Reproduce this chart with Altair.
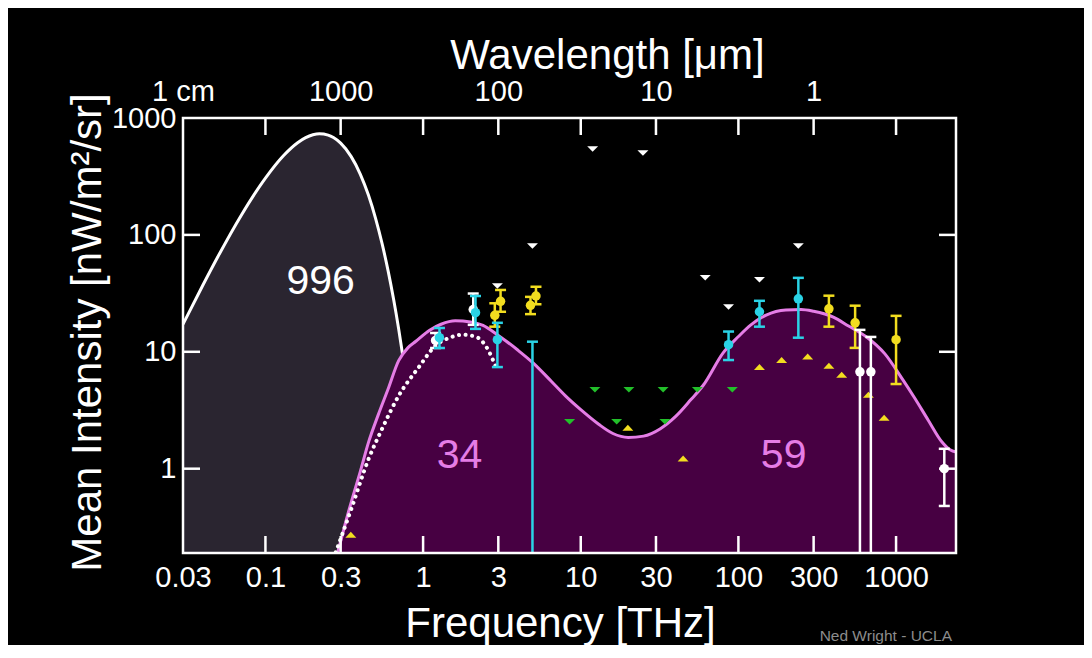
import altair as alt
import pandas as pd

FONT = "Liberation Sans"

# ---------------- data ----------------
# CMB spectrum: frequency [THz] and nu*I_nu [nW/m^2/sr]
cmb_nu = [0.03, 0.04, 0.05, 0.07, 0.1, 0.13, 0.16, 0.18, 0.2, 0.22, 0.25, 0.27, 0.3,
          0.35, 0.4, 0.45, 0.5, 0.55, 0.6, 0.65, 0.7, 0.75, 0.8, 0.9, 1.0]
cmb_val = [17.2, 36.9, 65.3, 146, 306, 475, 614, 679, 718, 733, 714, 680, 609,
           467, 330, 219, 138, 83.7, 49.2, 28.1, 15.7, 8.56, 4.6, 1.27, 0.33]

# CIB + COB model curve (magenta)
cib_nu = [0.27, 0.3, 0.34, 0.4, 0.45, 0.52, 0.6, 0.7, 0.8, 0.9, 1.1, 1.3, 1.6, 2.0, 2.4,
          3.0, 4.0, 5.0, 6.5, 8.0, 10, 13, 16, 20, 25, 32, 40, 50, 60, 80, 100, 120,
          150, 200, 250, 300, 400, 500, 650, 850, 1100, 1300, 1600, 1950, 2200, 2450]
cib_val = [0.14, 0.24, 0.45, 0.95, 1.67, 2.9, 4.8, 8.4, 10.8, 12.3, 15.3, 17.2, 18.4, 18.0, 16.8,
           13.8, 10.3, 8.0, 5.6, 4.2, 3.2, 2.4, 2.0, 1.85, 1.9, 2.2, 2.8, 3.9, 5.2, 9.8, 13.5, 17.0,
           20.6, 22.8, 23.0, 22.2, 19.8, 16.6, 13.4, 9.6, 5.8, 4.1, 2.6, 1.7, 1.45, 1.38]

# FIRAS-like dotted curve
dot_nu = [0.27, 0.35, 0.45, 0.55, 0.7, 0.94, 1.2, 1.5, 1.77, 2.17, 2.52, 2.83, 2.97]
dot_val = [0.17, 0.45, 1.2, 2.2, 4.2, 7.4, 11.3, 13.3, 14.0, 13.4, 11.0, 8.0, 6.8]

# measurements with error bars (lo = 0.1 -> bar runs to the bottom)
cyan_nu = [1.27, 2.15, 2.96, 4.94, 86.6, 136, 240]
cyan_val = [13.2, 21.6, 12.7, None, 11.5, 22.0, 28.4]
cyan_lo = [10.8, 15.7, 7.4, 0.1, 8.5, 16.4, 13.2]
cyan_hi = [16.0, 30.0, 17.7, 12.2, 14.9, 27.3, 42.9]

yellow_nu = [2.85, 3.1, 4.8, 5.2, 375, 550, 1000]
yellow_val = [20.5, 27.0, 25.0, 30.0, 23.3, 17.7, 12.7]
yellow_lo = [16.4, 22.0, 21.0, 25.5, 16.4, 10.8, 5.3]
yellow_hi = [26.0, 33.8, 29.5, 36.0, 30.2, 24.8, 20.3]

white_fir_nu = [1.2, 2.08]
white_fir_val = [12.5, 23.0]
white_fir_lo = [10.8, 17.0]
white_fir_hi = [14.5, 31.5]

white_nir_nu = [590, 692, 2023]
white_nir_val = [6.74, 6.74, 1.0]
white_nir_lo = [0.1, 0.1, 0.48]
white_nir_hi = [15.4, 13.4, 1.48]

# limits
white_upper_nu = [2.96, 4.94, 11.9, 24.8, 61.6, 86.6, 136, 240]
white_upper_val = [36.6, 80.5, 543, 502, 42.9, 24.2, 41.3, 80.5]
green_upper_nu = [8.5, 12.3, 16.9, 20.2, 33.3, 34.2, 54.9, 91.5]
green_upper_val = [2.52, 4.73, 2.52, 4.73, 4.73, 2.52, 4.73, 4.73]
yellow_lower_nu = [0.348, 19.9, 44.6, 136, 188, 275, 375, 452, 668, 840]
yellow_lower_val = [0.272, 2.24, 1.22, 7.4, 8.5, 9.1, 7.6, 6.35, 4.3, 2.73]

# integrated-intensity labels
ann_nu = [0.224, 1.70, 193.6]
ann_val = [39.6, 1.29, 1.29]
ann_text = ["996", "34", "59"]
ann_color = ["#ffffff", "#e57de6", "#e57de6"]

# axes
x_label_values = [0.03, 0.1, 0.3, 1, 3, 10, 30, 100, 300, 1000]
x_label_text = ["0.03", "0.1", "0.3", "1", "3", "10", "30", "100", "300", "1000"]
x_tick_values = [0.1, 0.3, 1, 3, 10, 30, 100, 300, 1000]
top_label_values = [0.03, 0.3, 3, 30, 300]
top_label_text = ["1 cm", "1000", "100", "10", "1"]
y_label_values = [1, 10, 100, 1000]
y_label_text = ["1", "10", "100", "1000"]
y_tick_values = [1, 10, 100]

X_DOMAIN = [0.03, 2400]
Y_DOMAIN = [0.19, 1000]

# ---------------- layout ----------------
W, H = 773, 435
LEFT, TOP = 175, 110
VIEW_W, VIEW_H = 1076, 637
TICK = 17

CMB_FILL = "#2a2530"
CIB_FILL = "#470042"
MAGENTA = "#e57de6"
CYAN = "#2ad3e6"
YELLOW = "#f2dd1f"
GREEN = "#22c02a"

xs = alt.Scale(type="log", domain=X_DOMAIN, nice=False)
ys = alt.Scale(type="log", domain=Y_DOMAIN, nice=False)


def label_expr(values, labels):
    expr = "''"
    for v, lab in zip(reversed(values), reversed(labels)):
        expr = f"abs(datum.value / {v} - 1) < 0.001 ? '{lab}' : ({expr})"
    return expr


def X(axis=None):
    return alt.X("nu:Q", scale=xs, axis=axis)


def Y(field="val", axis=None):
    return alt.Y(f"{field}:Q", scale=ys, axis=axis)


bottom_axis = alt.Axis(
    orient="bottom", values=x_label_values, labelExpr=label_expr(x_label_values, x_label_text),
    ticks=False, tickSize=0, domain=False, grid=False, labelFlush=False, labelOverlap=False,
    labelFont=FONT, labelFontSize=29, labelColor="white", labelPadding=33,
    labelBaseline="alphabetic",
    title="Frequency [THz]", titleFont=FONT, titleFontSize=42, titleFontWeight="normal",
    titleColor="white", titleX=377, titleY=83, titleAlign="center", titleBaseline="alphabetic",
)
top_axis = alt.Axis(
    orient="top", values=top_label_values, labelExpr=label_expr(top_label_values, top_label_text),
    ticks=False, tickSize=0, domain=False, grid=False, labelFlush=False, labelOverlap=False,
    labelFont=FONT, labelFontSize=29, labelColor="white", labelPadding=18,
    labelBaseline="alphabetic",
    title="Wavelength [μm]", titleFont=FONT, titleFontSize=42, titleFontWeight="normal",
    titleColor="white", titleX=424, titleY=-50, titleAlign="center", titleBaseline="alphabetic",
)
left_axis = alt.Axis(
    orient="left", values=y_label_values, labelExpr=label_expr(y_label_values, y_label_text),
    ticks=False, tickSize=0, domain=False, grid=False, labelFlush=False, labelOverlap=False,
    labelFont=FONT, labelFontSize=29, labelColor="white", labelPadding=7,
    labelBaseline="middle", labelAlign="right",
    title="Mean Intensity [nW/m²/sr]", titleFont=FONT, titleFontSize=42,
    titleFontWeight="normal", titleColor="white", titleAngle=270, titleX=-83, titleY=214,
    titleAlign="center", titleBaseline="alphabetic",
)

# ---------------- data frames ----------------
cmb = pd.DataFrame({"nu": cmb_nu, "val": cmb_val})
cmb["base"] = Y_DOMAIN[0]
cib = pd.DataFrame({"nu": cib_nu, "val": cib_val})
cib["base"] = Y_DOMAIN[0]
dots = pd.DataFrame({"nu": dot_nu, "val": dot_val})

layers = []

layers.append(
    alt.Chart(cmb).mark_area(color=CMB_FILL, opacity=1, interpolate="monotone", clip=True)
    .encode(x=X(bottom_axis), y=Y("val", left_axis), y2=alt.Y2("base"))
)
layers.append(
    alt.Chart(cmb).mark_line(color="white", strokeWidth=3, interpolate="monotone", clip=True)
    .encode(x=X(top_axis), y=Y())
)
layers.append(
    alt.Chart(cib).mark_area(color=CIB_FILL, opacity=1, interpolate="monotone", clip=True)
    .encode(x=X(), y=Y(), y2=alt.Y2("base"))
)
layers.append(
    alt.Chart(cib).mark_line(color=MAGENTA, strokeWidth=3, interpolate="monotone", clip=True)
    .encode(x=X(), y=Y())
)
layers.append(
    alt.Chart(dots).mark_line(color="white", strokeWidth=4, strokeDash=[0.1, 6.5],
                              strokeCap="round", interpolate="monotone", clip=True)
    .encode(x=X(), y=Y())
)

DOWN = "M-1,-0.5L1,-0.5L0,0.5Z"
UP = "M-1,0.55L1,0.55L0,-0.55Z"


def limits(nu, val, color, shape, size):
    df = pd.DataFrame({"nu": nu, "val": val})
    return alt.Chart(df).mark_point(shape=shape, filled=True, color=color, size=size,
                                    opacity=1, strokeWidth=0, clip=True).encode(x=X(), y=Y())


layers.append(limits(green_upper_nu, green_upper_val, GREEN, DOWN, 120))
layers.append(limits(white_upper_nu, white_upper_val, "white", DOWN, 120))
layers.append(limits(yellow_lower_nu, yellow_lower_val, YELLOW, UP, 120))


def errbars(nu, val, lo, hi, color):
    df = pd.DataFrame({"nu": nu, "val": val, "lo": lo, "hi": hi})
    base = alt.Chart(df)
    out = [
        base.mark_rule(color=color, strokeWidth=2.5, clip=True)
        .encode(x=X(), y=Y("lo"), y2=alt.Y2("hi")),
        base.mark_tick(orient="horizontal", color=color, size=11, thickness=2.5, opacity=1,
                       clip=True).encode(x=X(), y=Y("hi")),
        base.transform_filter(f"datum.lo > {Y_DOMAIN[0]}")
        .mark_tick(orient="horizontal", color=color, size=11, thickness=2.5, opacity=1,
                   clip=True).encode(x=X(), y=Y("lo")),
        base.transform_filter("isValid(datum.val)")
        .mark_circle(color=color, size=90, opacity=1, clip=True).encode(x=X(), y=Y("val")),
    ]
    return out


layers += errbars(white_fir_nu, white_fir_val, white_fir_lo, white_fir_hi, "white")
layers += errbars(yellow_nu, yellow_val, yellow_lo, yellow_hi, YELLOW)
layers += errbars(cyan_nu, cyan_val, cyan_lo, cyan_hi, CYAN)
layers += errbars(white_nir_nu, white_nir_val, white_nir_lo, white_nir_hi, "white")

ann = pd.DataFrame({"nu": ann_nu, "val": ann_val, "text": ann_text, "color": ann_color})
layers.append(
    alt.Chart(ann).mark_text(font=FONT, fontSize=41, align="center", baseline="middle")
    .encode(x=X(), y=Y(), text="text:N", color=alt.Color("color:N", scale=None))
)

# inward tick marks on all four sides and the frame
xt = pd.DataFrame({"nu": x_tick_values})
yt = pd.DataFrame({"val": y_tick_values})
layers.append(alt.Chart(xt).mark_rule(color="white", strokeWidth=2.5)
              .encode(x=X(), y=alt.value(H), y2=alt.value(H - TICK)))
layers.append(alt.Chart(xt).mark_rule(color="white", strokeWidth=2.5)
              .encode(x=X(), y=alt.value(0), y2=alt.value(TICK)))
layers.append(alt.Chart(yt).mark_rule(color="white", strokeWidth=2.5)
              .encode(y=Y(), x=alt.value(0), x2=alt.value(TICK)))
layers.append(alt.Chart(yt).mark_rule(color="white", strokeWidth=2.5)
              .encode(y=Y(), x=alt.value(W - TICK), x2=alt.value(W)))
layers.append(alt.Chart(pd.DataFrame({"a": [0]})).mark_rect(fillOpacity=0, stroke="white",
                                                            strokeWidth=2.5)
              .encode(x=alt.value(0), x2=alt.value(W), y=alt.value(0), y2=alt.value(H)))

credit = pd.DataFrame({"t": ["Ned Wright - UCLA"]})
layers.append(alt.Chart(credit).mark_text(font=FONT, fontSize=15.5, color="#8c8c8c",
                                          align="right", baseline="alphabetic")
              .encode(text="t:N", x=alt.value(952 - LEFT - 8), y=alt.value(641 - TOP - 8)))

chart = (
    alt.layer(*layers)
    .resolve_axis(x="independent", y="independent")
    .properties(
        width=W, height=H,
        padding={"left": LEFT, "top": TOP, "right": VIEW_W - LEFT - W, "bottom": VIEW_H - TOP - H},
        autosize=alt.AutoSizeParams(type="none"),
        background="black",
    )
    .configure_view(stroke="transparent")
)

chart.save("out.html", embed_options={"renderer": "svg", "actions": False})
